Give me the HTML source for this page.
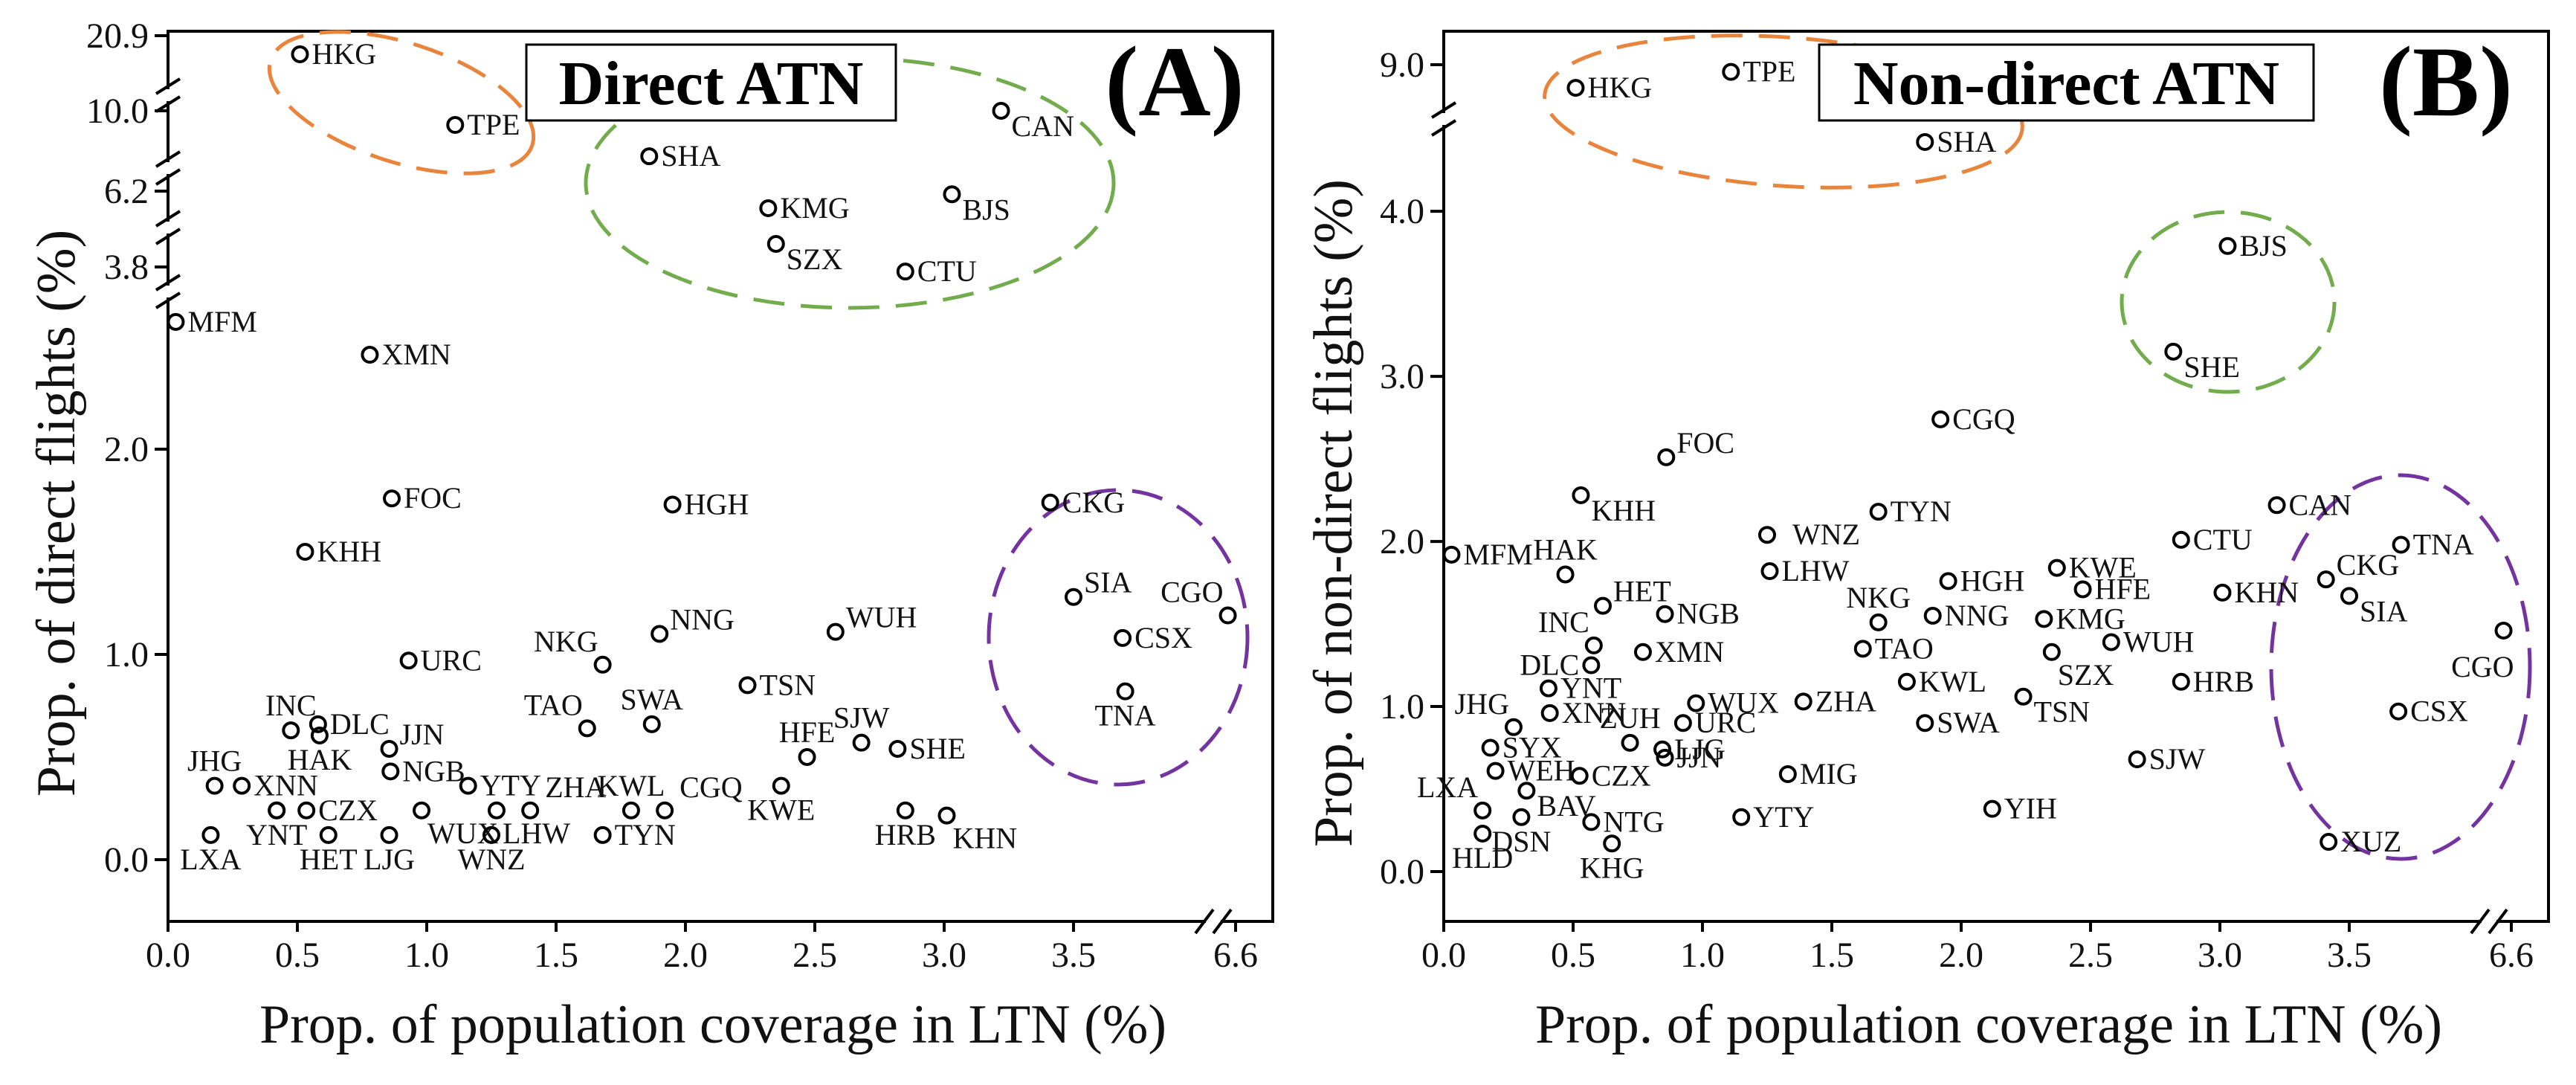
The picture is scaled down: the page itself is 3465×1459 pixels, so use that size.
<!DOCTYPE html>
<html><head><meta charset="utf-8"><style>
html,body{margin:0;padding:0;background:#fff}
svg, svg text{font-family:"Liberation Serif","Times New Roman",serif}
</style></head><body>
<svg id="chart" width="3465" height="1454" viewBox="0 0 3465 1454" xmlns="http://www.w3.org/2000/svg" font-family="Liberation Serif, serif"></svg>
<script>
// ---- Panel A data ----
const codesA = ["HKG","TPE","CAN","SHA","BJS","KMG","SZX","CTU","MFM","XMN","FOC","HGH","KHH","CKG","SIA","CGO","CSX","TNA","NNG","WUH","URC","NKG","TSN","TAO","SWA","INC","DLC","HAK","JJN","NGB","HFE","SJW","SHE","JHG","XNN","YTY","KWE","YNT","CZX","WUX","LHW","ZHA","KWL","CGQ","HRB","KHN","LXA","HET","LJG","WNZ","TYN","SYX"];
const popA = [0.51,1.11,3.22,1.86,3.03,2.32,2.35,2.85,0.03,0.78,0.865,1.95,0.53,3.41,3.50,6.57,3.69,3.70,1.90,2.58,0.93,1.68,2.24,1.62,1.87,0.475,0.58,0.586,0.855,0.86,2.47,2.68,2.82,0.18,0.285,1.16,2.37,0.42,0.535,0.98,1.27,1.40,1.79,1.92,2.85,3.01,0.165,0.62,0.855,1.25,1.68,0.42];
const flightsA = [18.2,9.33,10.0,7.85,6.1,5.66,4.53,3.63,2.62,2.46,1.76,1.73,1.50,1.74,1.28,1.19,1.08,0.82,1.10,1.11,0.97,0.95,0.85,0.64,0.66,0.63,0.66,0.605,0.54,0.43,0.50,0.57,0.54,0.36,0.36,0.36,0.36,0.24,0.24,0.24,0.24,0.24,0.24,0.24,0.24,0.215,0.12,0.12,0.12,0.12,0.12,0.24];
const labelPosA = ["r","r","rb","r","rb","r","rb","r","r","r","r","r","r","r","ra","al","r","b","ra","ra","r","al","r","al","a","a","r","b","ra","r","a","a","r","a","r","r","b","b","r","br","br","ar","a","ar","b","br","b","b","b","b","r","none"];
const yTicksA = [0,1,2,3.8,6.2,10,20.9];
const yTickLabelsA = ["0.0","1.0","2.0","3.8","6.2","10.0","20.9"];

// ---- Panel B data ----
const codesB = ["HKG","TPE","SHA","BJS","SHE","CGQ","FOC","KHH","TYN","CAN","WNZ","CTU","TNA","MFM","HAK","LHW","KWE","HGH","CKG","HFE","KHN","SIA","HET","NGB","NNG","KMG","NKG","CGO","WUH","INC","XMN","TAO","SZX","DLC","KWL","HRB","YNT","TSN","WUX","ZHA","XNN","CSX","URC","SWA","JHG","ZUH","LJG","JJN","SYX","SJW","WEH","CZX","MIG","BAV","LXA","YIH","YTY","DSN","NTG","HLD","XUZ","KHG"];
const popB = [0.51,1.11,1.86,3.03,2.82,1.92,0.86,0.53,1.68,3.22,1.25,2.85,3.70,0.03,0.47,1.26,2.37,1.95,3.41,2.47,3.01,3.50,0.615,0.855,1.89,2.32,1.68,6.57,2.58,0.58,0.77,1.62,2.35,0.57,1.79,2.85,0.405,2.24,0.975,1.39,0.41,3.69,0.925,1.86,0.27,0.72,0.845,0.855,0.18,2.68,0.2,0.525,1.33,0.32,0.15,2.12,1.15,0.30,0.57,0.15,3.42,0.65];
const flightsB = [8.26,8.77,4.42,3.79,3.15,2.74,2.51,2.28,2.18,2.22,2.04,2.01,1.98,1.92,1.80,1.82,1.84,1.76,1.77,1.71,1.69,1.67,1.61,1.56,1.55,1.53,1.51,1.46,1.39,1.37,1.33,1.35,1.33,1.25,1.15,1.15,1.11,1.06,1.02,1.03,0.96,0.97,0.90,0.90,0.875,0.78,0.74,0.69,0.75,0.68,0.61,0.58,0.59,0.49,0.37,0.38,0.33,0.33,0.30,0.23,0.18,0.17];
const labelPosB = ["r","r","r","r","rb","r","ra","rb","r","r","rg","r","r","r","a","r","r","r","ra","r","r","rb","ra","r","r","r","a","bl","r","al","r","r","br","l","r","r","r","rb","r","r","r","r","r","r","al","a","r","r","r","r","r","r","r","rb","al","r","r","b","r","b","r","b"];
const yTicksB = [0,1,2,3,4,9];
const yTickLabelsB = ["0.0","1.0","2.0","3.0","4.0","9.0"];

const xTicks = [0,0.5,1,1.5,2,2.5,3,3.5,6.6];
const xTickLabels = ["0.0","0.5","1.0","1.5","2.0","2.5","3.0","3.5","6.6"];

const NS = "http://www.w3.org/2000/svg";
const svg = document.getElementById("chart");
const FONT = "Liberation Serif, Times New Roman, serif";
function el(tag, attrs, parent, txt){
  const e = document.createElementNS(NS, tag);
  for (const k in attrs) e.setAttribute(k, attrs[k]);
  if (tag === "text") e.setAttribute("font-family", FONT);
  if (txt !== undefined) e.textContent = txt;
  (parent || svg).appendChild(e);
  return e;
}
function pw(knots, v){
  for (let i=0;i<knots.length-1;i++){
    const a=knots[i], b=knots[i+1];
    if (v<=b[0] || i===knots.length-2){
      return a[1] + (v-a[0])*(b[1]-a[1])/(b[0]-a[0]);
    }
  }
}
function makeX(x0){
  return v => v<=4.05 ? x0+348*v : x0+1436+(v-6.6)*348;
}
function slash(g, cx, cy, horizontal){
  for (const o of [-12,12]){
    if (horizontal){
      el("line",{x1:cx+o-12,y1:cy+16,x2:cx+o+12,y2:cy-16,stroke:"#000","stroke-width":4},g);
    } else {
      el("line",{x1:cx-16,y1:cy+o+10,x2:cx+16,y2:cy+o-10,stroke:"#000","stroke-width":4},g);
    }
  }
}

function panel(opt){
  const g = el("g",{});
  
  
  const x0 = opt.x0, right = x0+1486, top=42, bottom=1239;
  const fx = makeX(x0);
  const fy = v => pw(opt.knots, v);

  const frame = el("rect",{x:x0,y:top,width:right-x0,height:bottom-top,fill:"none",stroke:"#000","stroke-width":4},g);
  
  

  for (const by of opt.yBreaks){
    el("rect",{x:x0-3,y:by-8,width:6,height:16,fill:"#fff"},g);
    const bg = el("g",{},g);
    
    
    slash(bg, x0, by, false);
  }
  el("rect",{x:1632+x0-226-10,y:bottom-3,width:20,height:6,fill:"#fff"},g);
  const xb = el("g",{},g);
  
  
  slash(xb, x0+1406, bottom, true);

  const yt = el("g",{},g);
  
  
  opt.yTicks.forEach((v,i)=>{
    const y = fy(v);
    el("line",{x1:x0-18,y1:y,x2:x0,y2:y,stroke:"#000","stroke-width":4},yt);
    const t = el("text",{x:x0-26,y:y+16,"font-size":48,"text-anchor":"end",fill:"#111"},yt,opt.yTickLabels[i]);
    
    
  });
  el("line",{x1:x0,y1:bottom,x2:x0,y2:bottom+14,stroke:"#000","stroke-width":4},yt);
  const xt = el("g",{},g);
  
  
  xTicks.forEach((v,i)=>{
    const x = fx(v);
    el("line",{x1:x,y1:bottom,x2:x,y2:bottom+14,stroke:"#000","stroke-width":4},xt);
    const t = el("text",{x:x,y:1300,"font-size":48,"text-anchor":"middle",fill:"#111"},xt,xTickLabels[i]);
    
    
  });

  const xtitle = el("text",{x:x0+733,y:1402,"font-size":74,"text-anchor":"middle",fill:"#111"},g,"Prop. of population coverage in LTN (%)");
  
  
  const ytitle = el("text",{x:0,y:0,"font-size":74,"text-anchor":"middle",fill:"#111",transform:`translate(${opt.yTitleX},${opt.yTitleY}) rotate(-90)`},g,opt.yTitle);
  
  

  opt.ellipses.forEach(e=>{
    const c = el("ellipse",{cx:e[0],cy:e[1],rx:e[2],ry:e[3],fill:"none",stroke:e[5],"stroke-width":5,"stroke-dasharray":"42 22",transform:`rotate(${e[4]} ${e[0]} ${e[1]})`},g);
    
    
  });

  const tb = el("g",{},g);
  
  
  el("rect",{x:opt.box[0],y:60,width:opt.box[1],height:102,fill:"#fff",stroke:"#000","stroke-width":3},tb);
  el("text",{x:opt.box[0]+opt.box[1]/2,y:140,"font-size":84,"font-weight":"bold","text-anchor":"middle",fill:"#000"},tb,opt.title);
  const lt = el("text",{x:opt.letterX,y:155,"font-size":135,"font-weight":"bold","text-anchor":"middle",fill:"#000"},g,opt.letter);
  
  

  const offs = {r:[16,13,"start"],rb:[14,34,"start"],ra:[14,-6,"start"],rg:[34,13,"start"],a:[0,-20,"middle"],ar:[20,-18,"start"],b:[0,46,"middle"],br:[8,44,"start"],al:[-6,-18,"end"],l:[-16,13,"end"],bl:[14,62,"end"]};
  opt.codes.forEach((c,i)=>{
    const cx = fx(opt.pop[i]), cy = fy(opt.fl[i]);
    const pg = el("g",{},g);
    
    
    el("circle",{cx:cx,cy:cy,r:10,fill:"none",stroke:"#000","stroke-width":4},pg);
    const o = offs[opt.lp[i]];
    if (o){
      el("text",{x:cx+o[0],y:cy+o[1],"font-size":40,"text-anchor":o[2],fill:"#111"},pg,c);
    }
  });
}

panel({name:"panel-a-direct", x0:226, codes:codesA, pop:popA, fl:flightsA, lp:labelPosA,
  knots:[[0,1156],[2.75,397],[3.8,359],[6.2,257],[10,149],[20.9,48]],
  yTicks:yTicksA, yTickLabels:yTickLabelsA, yBreaks:[128,226,306,392],
  yTitle:"Prop. of direct flights (%)", yTitleX:100, yTitleY:690,
  ellipses:[[540,138,185,80,18,"#E8843C","orange-cluster"],[1143,246,355,168,0,"#72AC4D","green-cluster"],[1504,857,174,198,0,"#7434A0","purple-cluster"]],
  box:[708,497], title:"Direct ATN", letterX:1580, letter:"(A)"});

panel({name:"panel-b-non-direct", x0:1942, codes:codesB, pop:popB, fl:flightsB, lp:labelPosB,
  knots:[[0,1172],[4.6,151],[7.5,150],[9,87]],
  yTicks:yTicksB, yTickLabels:yTickLabelsB, yBreaks:[160],
  yTitle:"Prop. of non-direct flights (%)", yTitleX:1818, yTitleY:690,
  ellipses:[[2399,150,322,100,4,"#E8843C","orange-cluster"],[2997,406,143,121,0,"#72AC4D","green-cluster"],[3229,897,174,258,0,"#7434A0","purple-cluster"]],
  box:[2447,665], title:"Non-direct ATN", letterX:3290, letter:"(B)"});
</script>
</body></html>
